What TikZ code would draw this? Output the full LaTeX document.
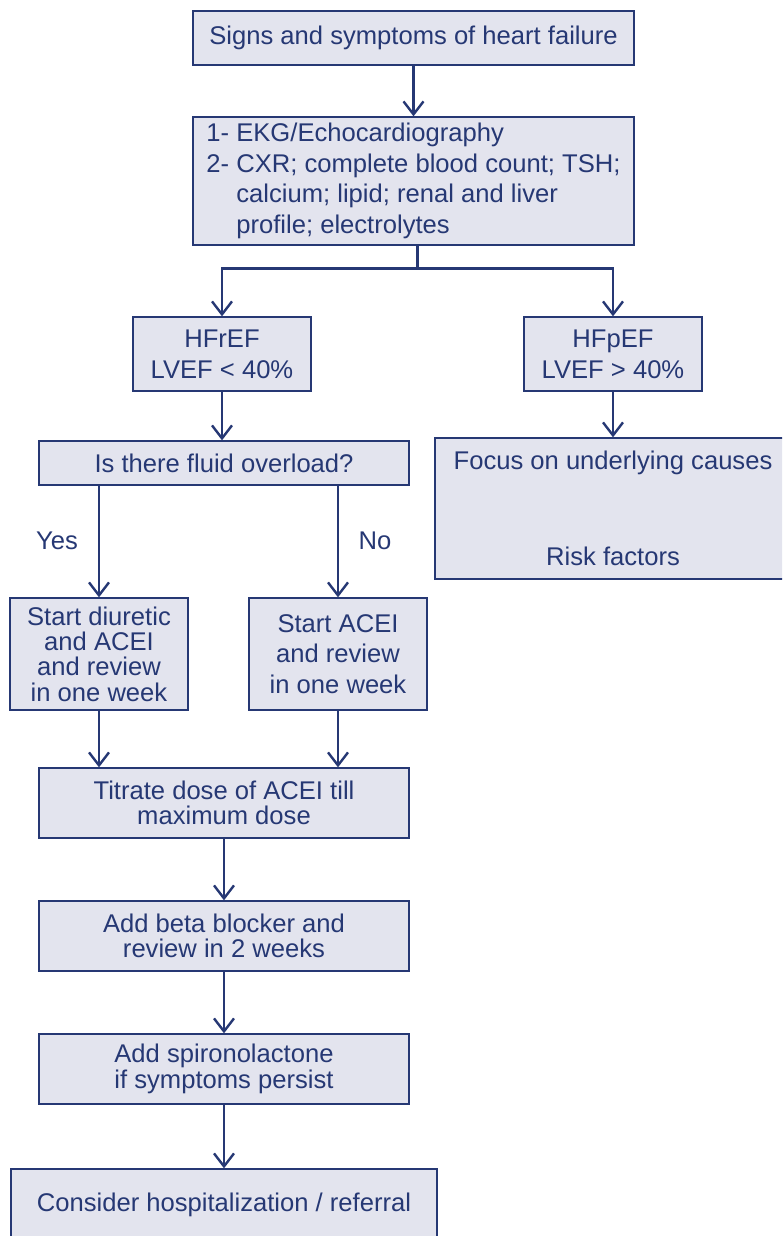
\documentclass[tikz,border=0pt]{standalone}
\usepackage{fontspec}
\setmainfont{Liberation Sans}
\usetikzlibrary{arrows.meta}
\definecolor{navy}{RGB}{38,56,116}
\definecolor{boxfill}{RGB}{227,228,238}
\begin{document}
\begin{tikzpicture}[x=1pt,y=-1pt,
  box/.style={draw=navy,fill=boxfill,line width=1.3pt,inner sep=0pt,text=navy,align=center,font=\fontsize{25.6}{30.7}\selectfont},
  tight/.style={font=\fontsize{25.6}{25.3}\selectfont},
  arr/.style={draw=navy,line width=2.4pt,-{Straight Barb[length=13pt,width=20pt]}},
  conn/.style={draw=navy,line width=2.4pt},
  lbl/.style={text=navy,font=\fontsize{25.6}{30.7}\selectfont}]
\clip (0,0) rectangle (782,1236);
\node[box,minimum width=441,minimum height=54] (sign) at (413.5,38) {Signs and symptoms of heart failure};
\node[box,align=left,minimum width=441,minimum height=128] (ekg) at (413.5,181) {1- EKG/Echocardiography\\2- CXR; complete blood count; TSH;\\\phantom{2- }calcium; lipid; renal and liver\\\phantom{2- }profile; electrolytes};
\node[box,minimum width=178,minimum height=74] (hfr) at (222,354) {HFrEF\\LVEF \textless{} 40\%};
\node[box,minimum width=178,minimum height=74] (hfp) at (613,354) {HFpEF\\LVEF \textgreater{} 40\%};
\node[box,minimum width=370,minimum height=44] (fluid) at (224,463) {Is there fluid overload?};
\node[box,minimum width=356,minimum height=141] (focus) at (613,508.5) {Focus on underlying causes\\[65pt]Risk factors};
\node[box,tight,minimum width=178,minimum height=112] (diur) at (99,654) {Start diuretic\\and ACEI\\and review\\in one week};
\node[box,minimum width=178,minimum height=112] (acei) at (338,654) {Start ACEI\\and review\\in one week};
\node[box,tight,minimum width=370,minimum height=70] (titr) at (224,803) {Titrate dose of ACEI till\\maximum dose};
\node[box,tight,minimum width=370,minimum height=70] (beta) at (224,936) {Add beta blocker and\\review in 2 weeks};
\node[box,tight,minimum width=370,minimum height=70] (spiro) at (224,1069) {Add spironolactone\\if symptoms persist};
\node[box,minimum width=426,minimum height=72] (final) at (224,1205) {Consider hospitalization / referral};
\node[lbl] (yes) at (57,541) {Yes};
\node[lbl] (no) at (375,541) {No};
\draw[arr] (sign) -- (ekg);
\coordinate (ekgb) at ([xshift=4pt]ekg.south);
\draw[conn] (ekgb) -- ++(0,23) coordinate (br);
\draw[arr] (br) -| (hfr.north);
\draw[arr] (br) -| (hfp.north);
\draw[arr] (hfr) -- (hfr.south |- fluid.north);
\draw[arr] (hfp) -- (focus.north -| hfp.south);
\draw[arr] (fluid.south -| diur.north) -- (diur.north);
\draw[arr] (fluid.south -| acei.north) -- (acei.north);
\draw[arr] (diur.south) -- (diur.south |- titr.north);
\draw[arr] (acei.south) -- (acei.south |- titr.north);
\draw[arr] (titr) -- (beta);
\draw[arr] (beta) -- (spiro);
\draw[arr] (spiro) -- (final);
\end{tikzpicture}
\end{document}
